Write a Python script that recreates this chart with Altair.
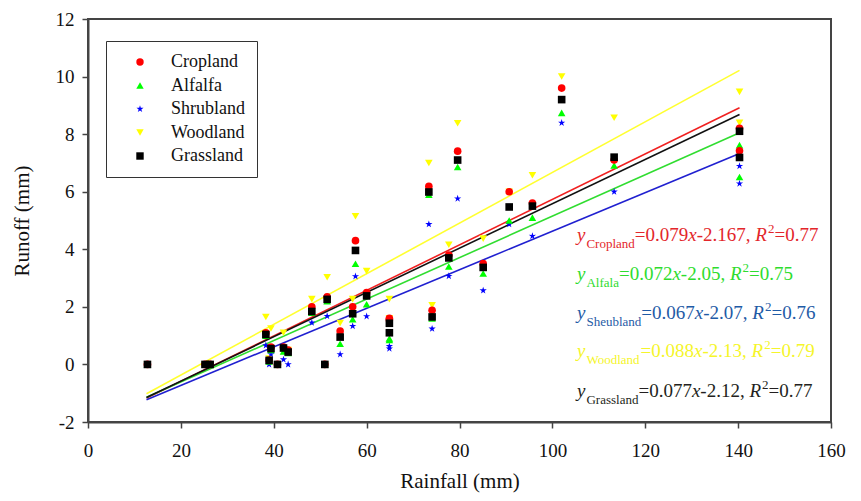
import altair as alt
import pandas as pd

# ---------------- data ----------------
land_uses = ["Cropland", "Alfalfa", "Shrubland", "Woodland", "Grassland"]

rainfall = [12.8, 25.2, 26.3, 38.3, 39.0, 39.4, 40.8, 42.1, 43.1, 48.2, 51.0, 51.5,
            54.3, 57.0, 57.6, 60.0, 64.9, 64.9, 73.4, 74.1, 77.7, 79.6, 85.1, 90.7,
            95.7, 102.0, 113.3, 140.3, 140.3]
cropland = [0, 0, 0, 1.10, 0.15, 0.60, 0, 0.60, 0.50, 2.00, 0, 2.35, 1.16, 2.00, 4.30,
            2.50, 1.60, 1.55, 6.19, 1.88, 3.80, 7.41, 3.50, 6.00, 5.61, 9.60, 7.10, 8.20, 7.42]
alfalfa = [0, 0, 0, 1.00, 0.10, 0.50, 0, 0.45, 0.40, 1.80, 0, 2.20, 0.72, 1.57, 3.50,
           2.09, 0.90, 0.85, 5.90, 1.60, 3.40, 6.86, 3.16, 5.00, 5.10, 8.74, 6.91, 7.62, 6.51]
shrubland = [0, 0, 0, 0.66, 0.0, 0.35, 0, 0.17, 0.0, 1.45, 0, 1.68, 0.35, 1.33, 3.06,
             1.67, 0.63, 0.55, 4.87, 1.24, 3.07, 5.76, 2.57, 4.87, 4.46, 8.39, 6.00, 6.89, 6.28]
woodland = [0, 0, 0, 1.65, 0.20, 1.25, 0, 1.10, 0.50, 2.27, 0, 3.03, 1.44, 2.27, 5.15,
            3.24, 2.27, 1.60, 7.00, 2.05, 4.16, 8.38, 4.37, 6.00, 6.57, 10.00, 8.57, 9.47, 8.39]
grassland = [0, 0, 0, 1.04, 0.14, 0.55, 0, 0.57, 0.43, 1.84, 0, 2.26, 0.95, 1.76, 3.96,
             2.38, 1.43, 1.10, 5.99, 1.65, 3.70, 7.10, 3.37, 5.47, 5.50, 9.20, 7.20, 8.10, 7.19]

# fitted equations as printed on the chart
eq_names = ["Cropland", "Alfala", "Sheubland", "Woodland", "Grassland"]
slopes = [0.079, 0.072, 0.067, 0.088, 0.077]
intercepts = [-2.167, -2.05, -2.07, -2.13, -2.12]
slope_txt = ["0.079", "0.072", "0.067", "0.088", "0.077"]
icpt_txt = ["2.167", "2.05", "2.07", "2.13", "2.12"]
r2_txt = ["0.77", "0.75", "0.76", "0.79", "0.77"]
fit_range = [12.6, 140.3]

x_ticks = [0, 20, 40, 60, 80, 100, 120, 140, 160]
y_ticks = [-2, 0, 2, 4, 6, 8, 10, 12]

# ---------------- styling ----------------
FONT = "Liberation Serif"
point_colors = ["#ff0000", "#00ff00", "#0000ff", "#ffff00", "#000000"]
line_colors = ["#f02020", "#30dd30", "#2020d0", "#ffff30", "#111111"]
text_colors = ["#e3262b", "#2edc2e", "#1f5ba6", "#f5f52a", "#231f20"]
STAR = ("M0,-1L0.223,-0.307L0.951,-0.309L0.361,0.117L0.588,0.809L0,0.38"
        "L-0.588,0.809L-0.361,0.117L-0.951,-0.309L-0.223,-0.307Z")
shapes = ["circle", "triangle-up", STAR, "triangle-down", "square"]
draw_rank = {"Woodland": 0, "Shrubland": 1, "Alfalfa": 2, "Cropland": 3, "Grassland": 4}

W, H = 743, 403

series = [cropland, alfalfa, shrubland, woodland, grassland]
rows = []
for name, vals in zip(land_uses, series):
    for r, v in zip(rainfall, vals):
        rows.append({"Rainfall": r, "Runoff": v, "Land": name, "rank": draw_rank[name]})
pts = pd.DataFrame(rows)

line_rows = []
for i, name in enumerate(land_uses):
    for xv in fit_range:
        line_rows.append({"Rainfall": xv, "Runoff": slopes[i] * xv + intercepts[i],
                          "Fit": name, "col": line_colors[i]})
lines_df = pd.DataFrame(line_rows)

xscale = alt.Scale(domain=[0, 160], nice=False, zero=False)
yscale = alt.Scale(domain=[-2, 12], nice=False, zero=False)

xaxis = alt.Axis(values=x_ticks, title="Rainfall (mm)", grid=False, labelFlush=False,
                 labelExpr="'' + datum.value")
yaxis = alt.Axis(values=y_ticks, title="Runoff (mm)", grid=False,
                 labelExpr="'' + datum.value")

lines = alt.Chart(lines_df).mark_line(strokeWidth=1.6, clip=True).encode(
    x=alt.X("Rainfall:Q", scale=xscale, axis=xaxis),
    y=alt.Y("Runoff:Q", scale=yscale, axis=yaxis),
    color=alt.Color("col:N", scale=None),
    detail="Fit:N",
    order="Rainfall:Q",
)

legend = alt.Legend(title=None, orient="none", legendX=18, legendY=22,
                    padding=12, strokeColor="#333333",
                    labelFont=FONT, labelFontSize=18, labelColor="#111",
                    symbolSize=55, rowPadding=5.5, labelOffset=22,
                    symbolOffset=13, symbolStrokeWidth=0)

points = alt.Chart(pts).mark_point(filled=True, opacity=1, size=58).encode(
    x=alt.X("Rainfall:Q", scale=xscale),
    y=alt.Y("Runoff:Q", scale=yscale),
    color=alt.Color("Land:N", scale=alt.Scale(domain=land_uses, range=point_colors),
                    legend=legend),
    shape=alt.Shape("Land:N", scale=alt.Scale(domain=land_uses, range=shapes),
                    legend=legend),
    order=alt.Order("rank:Q"),
)

# ---------------- equation annotations (pixel positions) ----------------
TW = {"0": .5, "1": .5, "2": .5, "3": .5, "4": .5, "5": .5, "6": .5, "7": .5, "8": .5,
      "9": .5, ".": .25, ",": .25, " ": .25, "=": .564, "-": .333, "x": .444, "R": .611,
      "y": .444, "C": .667, "r": .333, "o": .5, "p": .5, "l": .278, "a": .444, "n": .5,
      "d": .5, "A": .722, "f": .333, "S": .556, "h": .5, "e": .444, "u": .5, "b": .5,
      "W": .944, "G": .722, "s": .389}


def tw(s, size):
    return sum(TW.get(c, .5) for c in s) * size


MAIN, SUB = 19, 13
row_y = [222, 261, 300, 338, 378]   # baselines in the plot area
x0 = 489
seg = []
for i in range(5):
    b = row_y[i]
    c = text_colors[i]
    x = x0
    seg.append({"t": "y", "x": x, "y": b, "c": c, "k": "ital"}); x += tw("y", MAIN) + 1
    seg.append({"t": eq_names[i], "x": x, "y": b + 7, "c": c, "k": "sub"}); x += tw(eq_names[i], SUB)
    s = "=" + slope_txt[i]
    seg.append({"t": s, "x": x, "y": b, "c": c, "k": "main"}); x += tw(s, MAIN)
    seg.append({"t": "x", "x": x, "y": b, "c": c, "k": "ital"}); x += tw("x", MAIN)
    s = "-" + icpt_txt[i] + ", "
    seg.append({"t": s, "x": x, "y": b, "c": c, "k": "main"}); x += tw(s, MAIN)
    seg.append({"t": "R", "x": x, "y": b, "c": c, "k": "ital"}); x += tw("R", MAIN) + 1
    seg.append({"t": "2", "x": x, "y": b - 8, "c": c, "k": "sup"}); x += tw("2", SUB)
    s = "=" + r2_txt[i]
    seg.append({"t": s, "x": x, "y": b, "c": c, "k": "main"})
seg_df = pd.DataFrame(seg)


def text_layer(kind, size, style):
    kw = dict(align="left", baseline="alphabetic", font=FONT, fontSize=size)
    if style:
        kw["fontStyle"] = style
    return alt.Chart(seg_df).transform_filter(
        alt.datum.k == kind
    ).mark_text(**kw).encode(
        x=alt.X("x:Q", scale=None),
        y=alt.Y("y:Q", scale=None),
        text="t:N",
        color=alt.Color("c:N", scale=None),
    )


eqs = [text_layer("main", MAIN, None), text_layer("ital", MAIN, "italic"),
       text_layer("sub", SUB, None), text_layer("sup", SUB, None)]

chart = alt.layer(lines, points, *eqs).properties(
    width=W, height=H,
    padding={"left": 80, "top": 11, "right": 20, "bottom": 71},
    autosize=alt.AutoSizeParams(type="none"),
    background="white",
).configure_view(
    stroke="#444444", strokeWidth=2
).configure_axis(
    labelFont=FONT, titleFont=FONT, labelFontSize=19, titleFontSize=21,
    labelColor="#111", titleColor="#111", titleFontWeight="normal",
    domainColor="#444444", domainWidth=2, tickColor="#444444", tickWidth=1.5,
    tickSize=6,
).configure_axisX(
    labelPadding=13, titlePadding=10
).configure_axisY(
    labelPadding=8, titlePadding=23
)

chart.save("out.html", embed_options={"renderer": "svg", "actions": False})
